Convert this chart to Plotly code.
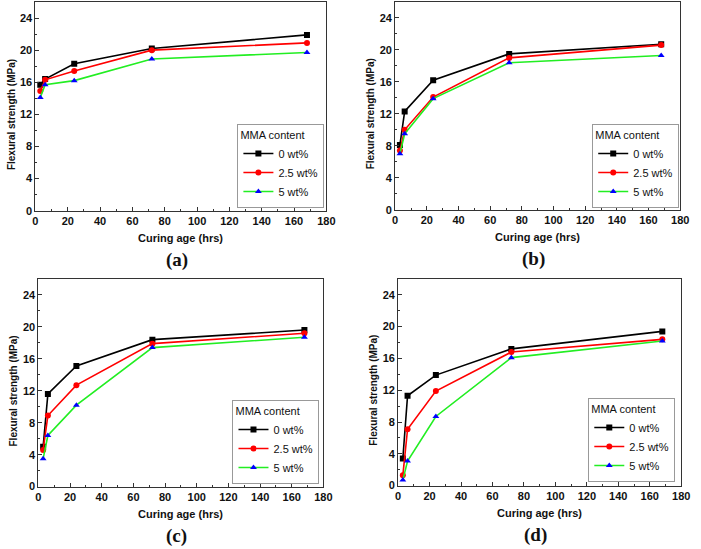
import plotly.graph_objects as go

# curing ages (hrs) and flexural strength (MPa)
ages = [3, 6, 24, 72, 168]
series_names = ['0 wt%', '2.5 wt%', '5 wt%']

panel_a = [
    [15.7, 16.4, 18.3, 20.2, 21.9],
    [14.9, 16.3, 17.4, 20.0, 20.9],
    [14.1, 15.7, 16.2, 18.9, 19.7],
]
panel_b = [
    [8.1, 12.3, 16.2, 19.5, 20.7],
    [7.4, 10.0, 14.1, 19.0, 20.6],
    [7.0, 9.5, 13.9, 18.4, 19.3],
]
panel_c = [
    [5.0, 11.6, 15.1, 18.4, 19.6],
    [4.6, 8.9, 12.7, 17.9, 19.2],
    [3.5, 6.4, 10.2, 17.4, 18.7],
]
panel_d = [
    [3.4, 11.3, 13.9, 17.2, 19.4],
    [1.3, 7.1, 11.9, 16.8, 18.4],
    [0.7, 3.1, 8.7, 16.1, 18.2],
]
panel_labels = ['(a)', '(b)', '(c)', '(d)']

W, H = 701, 549

# pixel boxes of each plot area: left, right, top, bottom
boxes = [
    (33, 329, 2, 213),
    (399, 689, 2, 212),
    (36, 326, 282, 492),
    (402, 690, 282, 491),
]
# legend right / bottom pixel positions
legend_pos = [(327, 210), (688, 210), (322, 489), (684, 487)]

line_colors = ['#000000', '#ff0000', '#22ee22']
marker_colors = ['#000000', '#ff0000', '#0000ff']
symbols = ['square', 'circle', 'triangle-up']

fig = go.Figure()
axis_font = dict(family='Arial, Liberation Sans', size=11, color='#111', weight='bold')

for i, data in enumerate([panel_a, panel_b, panel_c, panel_d]):
    k = '' if i == 0 else str(i + 1)
    leg = 'legend' + k
    for j, vals in enumerate(data):
        fig.add_trace(go.Scatter(
            x=ages, y=vals, name=series_names[j],
            mode='lines+markers',
            line=dict(color=line_colors[j], width=1.6),
            marker=dict(symbol=symbols[j], color=marker_colors[j], size=6),
            xaxis='x' + k, yaxis='y' + k, legend=leg,
        ))

    l, r, t, b = boxes[i]
    xd = [l / W, r / W]
    yd = [1 - b / H, 1 - t / H]
    common = dict(showline=True, linecolor='#333', linewidth=1, mirror=True,
                  ticks='inside', ticklen=4, tickcolor='#333', showgrid=False,
                  zeroline=False, tickfont=axis_font)
    fig.update_layout(**{
        'xaxis' + k: dict(domain=xd, range=[0, 180], dtick=20, anchor='y' + k,
                          minor=dict(ticks='inside', ticklen=2, dtick=10, tickcolor='#333'),
                          **common),
        'yaxis' + k: dict(domain=yd, range=[0, 26], tickvals=[0, 4, 8, 12, 16, 20, 24],
                          anchor='x' + k,
                          minor=dict(ticks='inside', ticklen=2, dtick=2, tickcolor='#333'),
                          **common),
    })

    lx, ly = legend_pos[i]
    fig.update_layout(**{leg: dict(
        x=lx / W, y=1 - ly / H, xanchor='right', yanchor='bottom',
        title=dict(text='MMA content', font=dict(size=11)),
        bordercolor='#999', borderwidth=1, bgcolor='white',
        font=dict(family='Arial, Liberation Sans', size=11, color='#111'),
        tracegroupgap=0, itemwidth=30,
    )})

    cx = (l + r) / 2 / W
    # x axis title
    fig.add_annotation(x=cx, y=1 - (b + 28) / H, xref='paper', yref='paper',
                       xanchor='center', yanchor='middle',
                       text='Curing age (hrs)', showarrow=False,
                       font=dict(family='Arial, Liberation Sans', size=11, color='#111', weight='bold'))
    # y axis title
    fig.add_annotation(x=(l - 25) / W, y=1 - ((t + b) / 2 + 8) / H, xref='paper', yref='paper',
                       xanchor='center', yanchor='middle',
                       text='Flexural strength (MPa)', showarrow=False, textangle=-90,
                       font=dict(family='Arial, Liberation Sans', size=10, color='#111', weight='bold'))
    # panel label
    fig.add_annotation(x=cx - 4 / W, y=1 - (b + 50) / H, xref='paper', yref='paper',
                       xanchor='center', yanchor='middle',
                       text=panel_labels[i], showarrow=False,
                       font=dict(family='Liberation Serif, Times New Roman', size=19, color='#111', weight='bold'))

fig.update_layout(
    width=W, height=H,
    margin=dict(l=0, r=0, t=0, b=0),
    paper_bgcolor='white', plot_bgcolor='white',
    showlegend=True,
)

# the page's default 8px body margin would push the figure off the window
fig.write_html('out.html', config={'displayModeBar': False},
               post_script="document.body.style.margin='0';")
